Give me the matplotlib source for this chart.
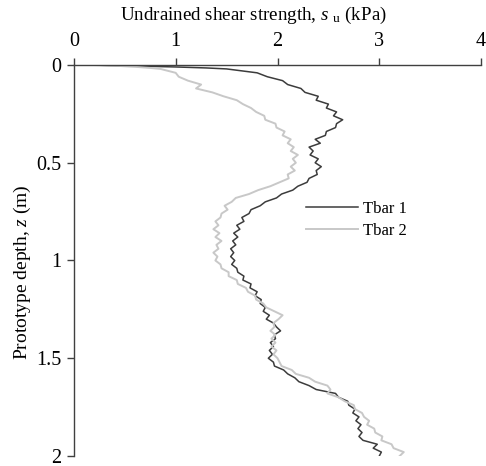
import numpy as np
import matplotlib
matplotlib.use("Agg")
import matplotlib.pyplot as plt

plt.rcParams['font.family'] = ['Liberation Serif', 'DejaVu Serif']
plt.rcParams['mathtext.fontset'] = 'custom'
plt.rcParams['mathtext.rm'] = 'Liberation Serif'
plt.rcParams['mathtext.it'] = 'Liberation Serif:italic'

# profundidades (m): tramo superficial fino + malla cada 0.02 m
depth_surface = [0.0, 0.005, 0.01, 0.015]
depth_grid = np.round(np.arange(0.02, 2.0001, 0.02), 3)
depth = np.concatenate([depth_surface, depth_grid])

# resistencia no drenada su (kPa)
tbar1 = [0.15, 0.60, 1.00, 1.30,
         1.50, 1.80, 1.90, 2.05, 2.10, 2.23, 2.27, 2.40, 2.38, 2.50,
         2.48, 2.58, 2.55, 2.64, 2.58, 2.57, 2.48, 2.47, 2.37, 2.42,
         2.31, 2.35, 2.32, 2.40, 2.37, 2.43, 2.38, 2.39, 2.31, 2.29,
         2.20, 2.15, 2.04, 1.99, 1.88, 1.83, 1.74, 1.72, 1.65, 1.67,
         1.60, 1.63, 1.57, 1.61, 1.56, 1.59, 1.54, 1.57, 1.54, 1.58,
         1.55, 1.60, 1.61, 1.67, 1.66, 1.74, 1.73, 1.80, 1.78, 1.84,
         1.83, 1.88, 1.86, 1.92, 1.89, 1.96, 1.99, 2.03, 1.97, 1.98,
         1.93, 1.96, 1.92, 1.95, 1.91, 1.96, 1.97, 2.06, 2.10, 2.17,
         2.21, 2.31, 2.38, 2.57, 2.60, 2.69, 2.70, 2.76, 2.74, 2.80,
         2.77, 2.82, 2.79, 2.83, 2.80, 2.84, 2.98, 2.94, 3.02, 3.00]

tbar2 = [0.20, 0.45, 0.62, 0.75,
         0.85, 1.00, 1.03, 1.12, 1.25, 1.20, 1.36, 1.47, 1.60, 1.66,
         1.74, 1.79, 1.87, 1.88, 1.98, 1.99, 2.07, 2.05, 2.13, 2.10,
         2.16, 2.13, 2.20, 2.15, 2.18, 2.13, 2.17, 2.10, 2.11, 2.02,
         1.93, 1.81, 1.72, 1.59, 1.55, 1.48, 1.51, 1.45, 1.44, 1.39,
         1.42, 1.37, 1.43, 1.39, 1.45, 1.40, 1.42, 1.37, 1.41, 1.39,
         1.44, 1.45, 1.52, 1.52, 1.60, 1.61, 1.69, 1.71, 1.78, 1.79,
         1.86, 1.89, 1.97, 2.05, 2.01, 1.96, 1.97, 1.93, 1.98, 1.94,
         1.98, 1.94, 1.99, 1.96, 2.00, 2.02, 2.04, 2.14, 2.18, 2.31,
         2.37, 2.49, 2.52, 2.49, 2.60, 2.66, 2.75, 2.76, 2.83, 2.85,
         2.90, 2.88, 2.95, 2.96, 3.03, 3.02, 3.12, 3.14, 3.24, 3.20]

fig = plt.figure(figsize=(4.86, 4.66), dpi=100)
ax = fig.add_axes([0.152, 0.0215, 0.838, 0.839])

ax.plot(tbar1, depth, color='#3c3c3c', lw=1.1, label='Tbar 1')
ax.plot(tbar2, depth, color='#c8c8c8', lw=1.4, label='Tbar 2')

ax.set_xlim(0, 4)
ax.set_ylim(2, 0)
ax.set_xticks([0, 1, 2, 3, 4])
ax.set_yticks([0, 0.5, 1, 1.5, 2])
ax.set_yticklabels(['0', '0.5', '1', '1.5', '2'])
ax.xaxis.tick_top()
ax.xaxis.set_label_position('top')
ax.set_xlabel(r'Undrained shear strength, $s$ $_{\mathrm{u}}$ (kPa)', fontsize=13.7)
ax.xaxis.set_label_coords(0.442, 1.115)
ax.set_ylabel(r'Prototype depth, $z$ (m)', fontsize=14)
ax.yaxis.set_label_coords(-0.10, 0.47)

for s in ['right', 'bottom']:
    ax.spines[s].set_visible(False)
for s in ['left', 'top']:
    ax.spines[s].set_color('#404040')
    ax.spines[s].set_linewidth(1.0)
ax.tick_params(direction='out', length=5, width=1.0, color='#404040',
               labelsize=14.5)
ax.tick_params(axis='x', pad=5)
ax.tick_params(axis='y', pad=4)

ax.legend(loc='upper left', bbox_to_anchor=(0.533, 0.69), frameon=False,
          fontsize=12, handlelength=3.1, handletextpad=0.3, labelspacing=0.35)

fig.savefig('out.png', dpi=100)
